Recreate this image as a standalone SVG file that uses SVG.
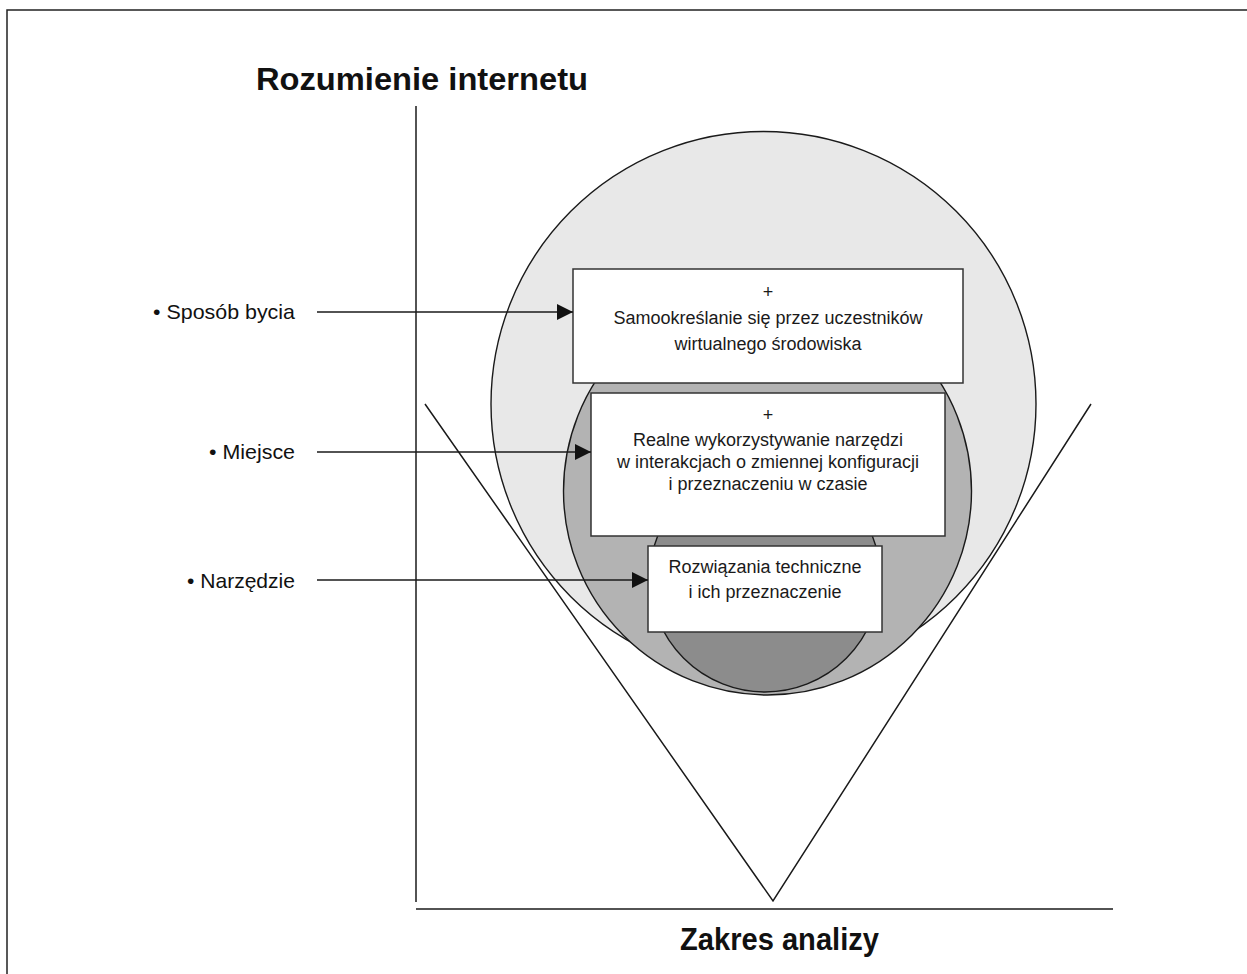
<svg xmlns="http://www.w3.org/2000/svg" width="1247" height="974" viewBox="0 0 1247 974">
<defs>
<marker id="arr" markerUnits="userSpaceOnUse" markerWidth="17" markerHeight="17" refX="16" refY="8.5" orient="auto">
<path d="M0,0.5 L16,8.5 L0,16.5 Z" fill="#111"/>
</marker>
<style>
.ln{stroke:#1a1a1a;stroke-width:1.5;fill:none}
.circ{stroke:#1a1a1a;stroke-width:1.4}
.box{fill:#fff;stroke:#333;stroke-width:1.5}
.bt{font-family:"Liberation Sans",Arial,sans-serif;font-size:18px;fill:#1a1a1a;text-anchor:middle}
.lab{font-family:"Liberation Sans",Arial,sans-serif;font-size:21px;fill:#111;text-anchor:end}
.ttl{font-family:"Liberation Sans",Arial,sans-serif;font-size:31px;font-weight:bold;fill:#111}
</style>
</defs>
<rect width="1247" height="974" fill="#fff"/>
<rect x="7" y="10" width="1300" height="1000" fill="none" stroke="#222" stroke-width="1.5"/>
<g id="axes">
<line class="ln" x1="416" y1="106" x2="416" y2="902"/>
<line class="ln" x1="416" y1="909" x2="1113" y2="909"/>
<text class="ttl" x="256" y="90" textLength="332" lengthAdjust="spacingAndGlyphs">Rozumienie internetu</text>
<text class="ttl" x="680" y="950" textLength="199" lengthAdjust="spacingAndGlyphs">Zakres analizy</text>
</g>
<g id="circles">
<circle id="big" class="circ" cx="763.5" cy="404" r="272.5" fill="#e8e8e8"/>
<circle id="medium" class="circ" cx="767.5" cy="491" r="204" fill="#b3b3b3"/>
<circle id="small" class="circ" cx="765" cy="577" r="115" fill="#8c8c8c"/>
</g>
<g id="vshape">
<polyline class="ln" points="425,404 773,901 1091,404" stroke-width="1.3"/>
</g>
<g id="box1">
<rect class="box" x="573" y="269" width="390" height="114"/>
<text class="bt" x="768" y="298">+</text>
<text class="bt" x="768" y="324">Samookreślanie się przez uczestników</text>
<text class="bt" x="768" y="350">wirtualnego środowiska</text>
</g>
<g id="box2">
<rect class="box" x="591" y="393" width="354" height="143"/>
<text class="bt" x="768" y="421">+</text>
<text class="bt" x="768" y="446">Realne wykorzystywanie narzędzi</text>
<text class="bt" x="768" y="468">w interakcjach o zmiennej konfiguracji</text>
<text class="bt" x="768" y="490">i przeznaczeniu w czasie</text>
</g>
<g id="box3">
<rect class="box" x="648" y="546" width="234" height="86"/>
<text class="bt" x="765" y="573">Rozwiązania techniczne</text>
<text class="bt" x="765" y="598">i ich przeznaczenie</text>
</g>
<g id="label1"><text class="lab" x="295" y="319" textLength="142" lengthAdjust="spacingAndGlyphs">• Sposób bycia</text></g>
<g id="label2"><text class="lab" x="295" y="459" textLength="86" lengthAdjust="spacingAndGlyphs">• Miejsce</text></g>
<g id="label3"><text class="lab" x="295" y="588" textLength="108" lengthAdjust="spacingAndGlyphs">• Narzędzie</text></g>
<g id="connectors">
<line class="ln" x1="317" y1="312" x2="573" y2="312" marker-end="url(#arr)"/>
<line class="ln" x1="317" y1="452" x2="591" y2="452" marker-end="url(#arr)"/>
<line class="ln" x1="317" y1="580" x2="648" y2="580" marker-end="url(#arr)"/>
</g>
</svg>
